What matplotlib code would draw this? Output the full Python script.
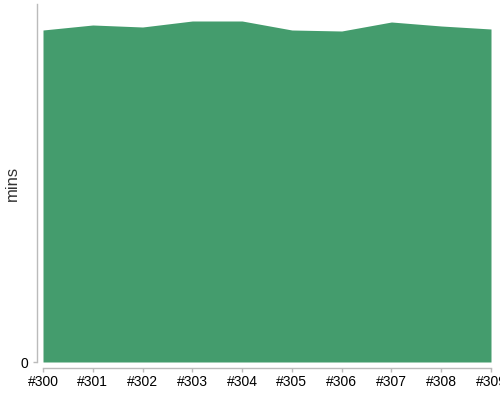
import matplotlib
matplotlib.use("Agg")
import matplotlib.pyplot as plt

plt.rcParams["font.family"] = ["Liberation Sans", "DejaVu Sans"]

builds = ["#300", "#301", "#302", "#303", "#304", "#305", "#306", "#307", "#308", "#309"]
mins = [332, 337, 335, 341, 341, 332, 331, 340, 336, 333]

fig = plt.figure(figsize=(5, 4), dpi=100)
ax = fig.add_axes([0.086, 0.095, 0.896, 0.895])

x = list(range(len(builds)))
ax.fill_between(x, 0, mins, color="#449c6d", lw=0)
ax.set_xlim(0, len(builds) - 1)
ax.set_ylim(0, 358)

ax.set_xticks(x)
ax.set_xticklabels(builds, fontsize=6.5, color="#111111")
ax.tick_params(axis="x", pad=2)
plt.setp(ax.get_xticklabels(), rotation=90, ha="right", va="center",
         rotation_mode="anchor")
ax.set_yticks([0])
ax.set_yticklabels(["0"], fontsize=10, color="#444444")
ax.set_ylabel("mins", fontsize=12, color="#333333")
ax.yaxis.set_label_coords(-0.052, 0.5)

for s in ("top", "right"):
    ax.spines[s].set_visible(False)
for s in ("left", "bottom"):
    ax.spines[s].set_position(("outward", 4))
    ax.spines[s].set_color("#bbbbbb")
    ax.spines[s].set_linewidth(1)
ax.tick_params(axis="both", color="#bbbbbb", length=3, width=1)

fig.savefig("out.png", dpi=100)
